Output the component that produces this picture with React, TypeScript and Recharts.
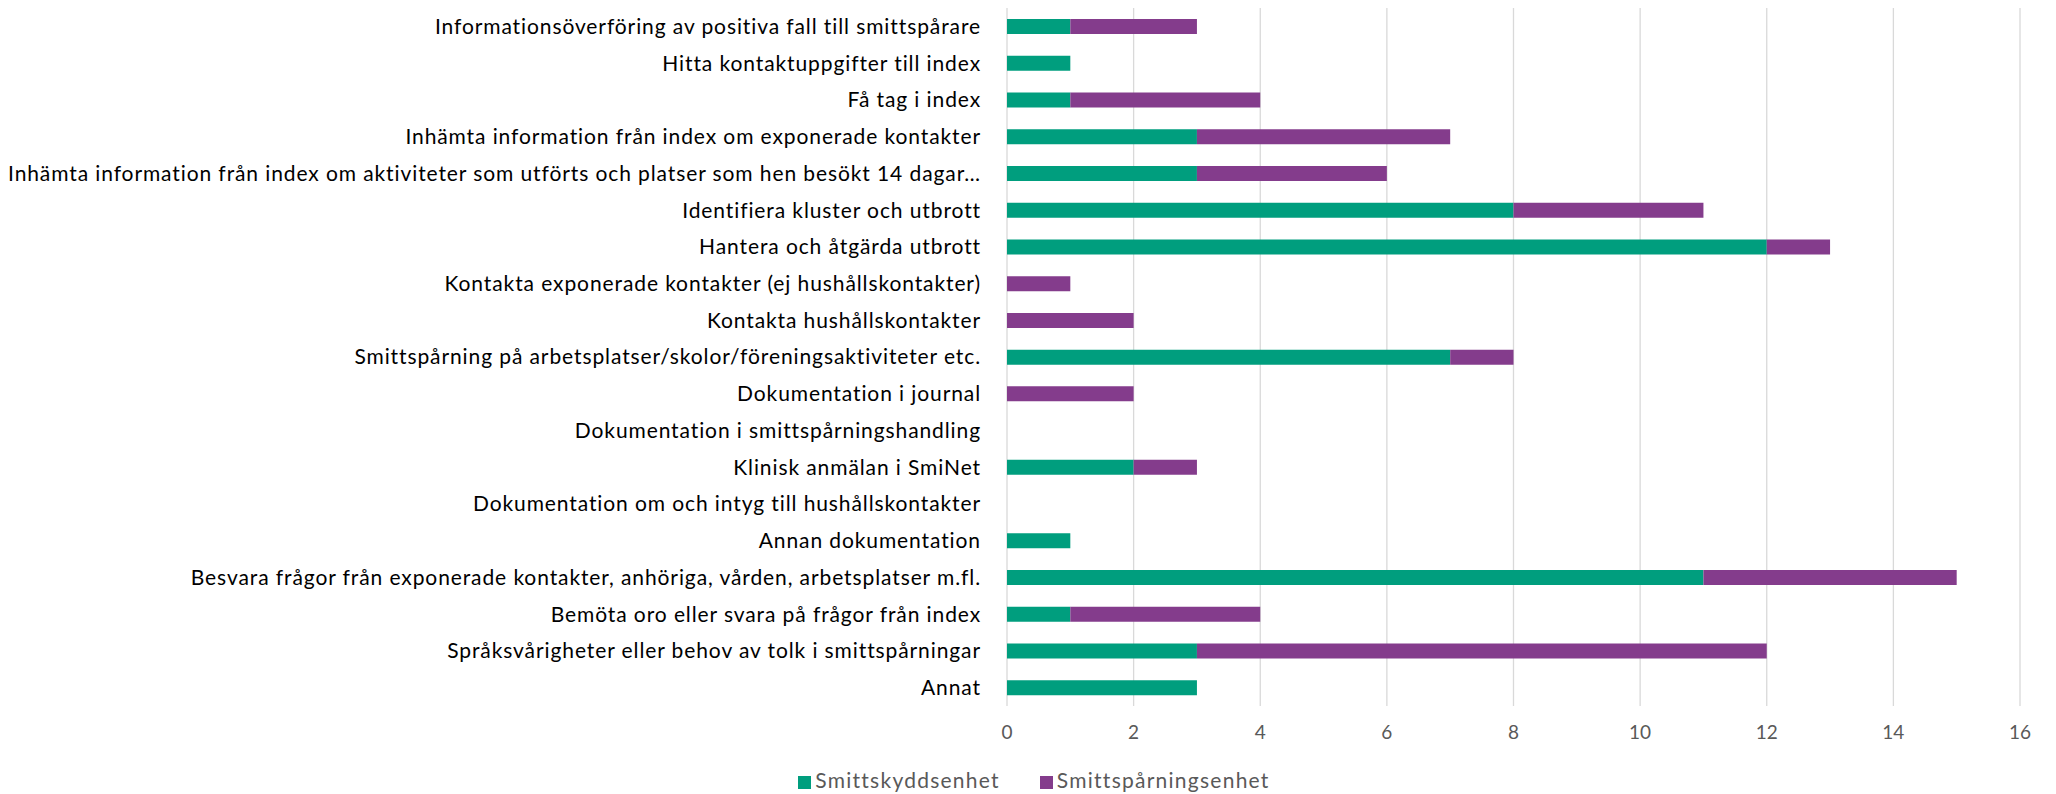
import React from 'react';
import { BarChart, Bar, XAxis, YAxis, CartesianGrid, Legend } from 'recharts';

const categories = [
  'Informationsöverföring av positiva fall till smittspårare',
  'Hitta kontaktuppgifter till index',
  'Få tag i index',
  'Inhämta information från index om exponerade kontakter',
  'Inhämta information från index om aktiviteter som utförts och platser som hen besökt 14 dagar…',
  'Identifiera kluster och utbrott',
  'Hantera och åtgärda utbrott',
  'Kontakta exponerade kontakter (ej hushållskontakter)',
  'Kontakta hushållskontakter',
  'Smittspårning på arbetsplatser/skolor/föreningsaktiviteter etc.',
  'Dokumentation i journal',
  'Dokumentation i smittspårningshandling',
  'Klinisk anmälan i SmiNet',
  'Dokumentation om och intyg till hushållskontakter',
  'Annan dokumentation',
  'Besvara frågor från exponerade kontakter, anhöriga, vården, arbetsplatser m.fl.',
  'Bemöta oro eller svara på frågor från index',
  'Språksvårigheter eller behov av tolk i smittspårningar',
  'Annat',
];

const smittskyddsenhet = [1, 1, 1, 3, 3, 8, 12, 0, 0, 7, 0, 0, 2, 0, 1, 11, 1, 3, 3];
const smittsparningsenhet = [2, 0, 3, 4, 3, 3, 1, 1, 2, 1, 2, 0, 1, 0, 0, 4, 3, 9, 0];

const xTicks = [0, 2, 4, 6, 8, 10, 12, 14, 16];

const data = categories.map((name, i) => ({
  name,
  Smittskyddsenhet: smittskyddsenhet[i],
  Smittspårningsenhet: smittsparningsenhet[i],
}));

const FONT = 'Lato, "Liberation Sans", sans-serif';

export default function App() {
  return (
    <div style={{ position: 'absolute', left: 0, top: 0, width: 2056, height: 794, background: '#fff' }}>
      <BarChart
        width={2056}
        height={794}
        data={data}
        layout="vertical"
        margin={{ top: 8, right: 36, left: 0, bottom: 0 }}
        barSize={15}
      >
        <CartesianGrid horizontal={false} vertical={true} stroke="#D9D9D9" strokeWidth={1.3} />
        <XAxis
          type="number"
          domain={[0, 16]}
          ticks={xTicks}
          axisLine={false}
          tickLine={false}
          tickMargin={14}
          height={44}
          tick={{ fill: '#595959', fontSize: 19, fontFamily: FONT }}
        />
        <YAxis
          type="category"
          dataKey="name"
          width={1007}
          axisLine={false}
          tickLine={false}
          tickSize={0}
          tickMargin={26}
          interval={0}
          tick={{ fill: '#000000', fontSize: 21, fontFamily: FONT, letterSpacing: 0.9 }}
        />
        <Legend
          verticalAlign="bottom"
          align="center"
          iconType="square"
          iconSize={13}
          height={44}
          wrapperStyle={{ fontFamily: FONT, fontSize: 21, letterSpacing: 1.25, top: 767, bottom: 'auto', left: 44 }}
          formatter={(value: string) => <span style={{ color: '#595959', marginRight: 30 }}>{value}</span>}
        />
        <Bar dataKey="Smittskyddsenhet" stackId="a" fill="#009E7E" isAnimationActive={false} />
        <Bar dataKey="Smittspårningsenhet" stackId="a" fill="#843C8C" isAnimationActive={false} />
      </BarChart>
    </div>
  );
}
